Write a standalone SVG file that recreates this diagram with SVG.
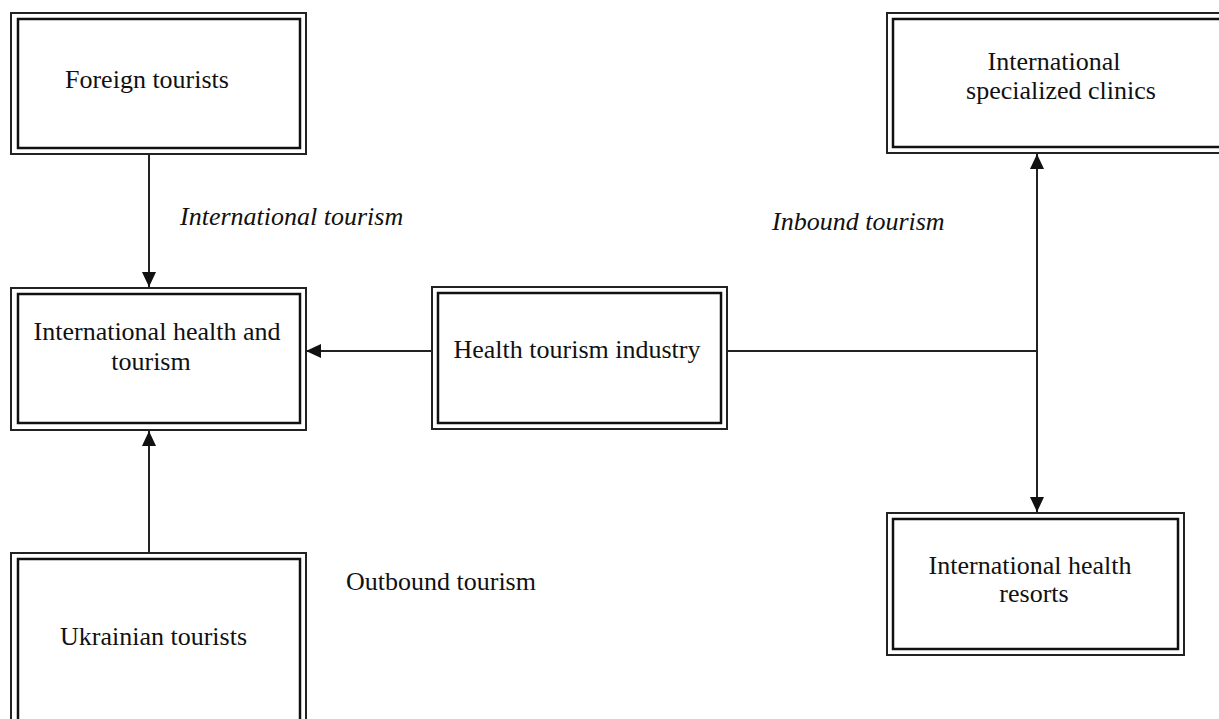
<svg xmlns="http://www.w3.org/2000/svg" width="1219" height="719" viewBox="0 0 1219 719">
<style>
.outer{fill:#fff;stroke:#222;stroke-width:2}
.inner{fill:none;stroke:#111;stroke-width:2.5}
.t{font-family:"Liberation Serif","Times New Roman",serif;font-size:26px;fill:#111}
.it{font-style:italic}
.c{stroke:#222;stroke-width:2;fill:none}
</style>
<defs>
<marker id="ah" markerUnits="userSpaceOnUse" markerWidth="16" markerHeight="14" refX="15" refY="7" orient="auto">
<path d="M0,0 L15,7 L0,14 Z" fill="#111"/>
</marker>
</defs>
<g id="connectors">
<line class="c" x1="149" y1="154" x2="149" y2="287" marker-end="url(#ah)"/>
<line class="c" x1="149" y1="553" x2="149" y2="431" marker-end="url(#ah)"/>
<line class="c" x1="432" y1="351" x2="306" y2="351" marker-end="url(#ah)"/>
<line class="c" x1="727" y1="351" x2="1037" y2="351"/>
<line class="c" x1="1037" y1="351" x2="1037" y2="154" marker-end="url(#ah)"/>
<line class="c" x1="1037" y1="351" x2="1037" y2="512" marker-end="url(#ah)"/>
</g>
<g id="foreign-tourists">
<rect class="outer" x="11" y="13" width="295" height="141"/>
<rect class="inner" x="18" y="19" width="282" height="129"/>
<text class="t" x="65" y="88">Foreign tourists</text>
</g>
<g id="international-health-tourism">
<rect class="outer" x="11" y="288" width="295" height="142"/>
<rect class="inner" x="18" y="294" width="282" height="129"/>
<text class="t" x="157" y="340" text-anchor="middle">International health and</text>
<text class="t" x="151" y="370" text-anchor="middle">tourism</text>
</g>
<g id="health-tourism-industry">
<rect class="outer" x="432" y="287" width="295" height="142"/>
<rect class="inner" x="438" y="293" width="283" height="130"/>
<text class="t" x="577" y="358" text-anchor="middle">Health tourism industry</text>
</g>
<g id="ukrainian-tourists">
<rect class="outer" x="11" y="553" width="295" height="180"/>
<rect class="inner" x="18" y="559" width="282" height="170"/>
<text class="t" x="60" y="645">Ukrainian tourists</text>
</g>
<g id="international-specialized-clinics">
<rect class="outer" x="887" y="13" width="340" height="140"/>
<rect class="inner" x="893" y="19" width="330" height="128"/>
<text class="t" x="1054" y="70" text-anchor="middle">International</text>
<text class="t" x="1061" y="99" text-anchor="middle">specialized clinics</text>
</g>
<g id="international-health-resorts">
<rect class="outer" x="887" y="513" width="297" height="142"/>
<rect class="inner" x="893" y="519" width="285" height="130"/>
<text class="t" x="1030" y="574" text-anchor="middle">International health</text>
<text class="t" x="1034" y="602" text-anchor="middle">resorts</text>
</g>
<g id="labels">
<text class="t it" x="180" y="225">International tourism</text>
<text class="t it" x="772" y="230">Inbound tourism</text>
<text class="t" x="346" y="590">Outbound tourism</text>
</g>
</svg>
